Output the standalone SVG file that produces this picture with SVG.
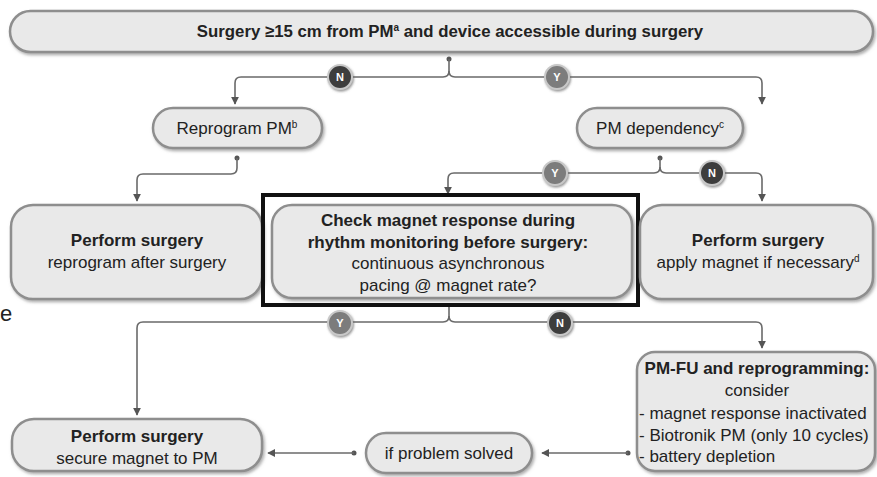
<svg xmlns="http://www.w3.org/2000/svg" width="877" height="477" viewBox="0 0 877 477">
<defs>
<style>
.box{fill:#e9e9e9;stroke:#8e8e8e;stroke-width:2.5;filter:url(#sh)}
.t{font-family:"Liberation Sans",Arial,sans-serif;fill:#222;text-anchor:middle}
.s{text-anchor:start}
.n{font-size:17px}
.bb{font-size:17px;font-weight:bold}
.sup{font-size:10px}
.c{fill:none;stroke:#6a6a6a;stroke-width:1.6}
.dot{fill:#555}
.yn{stroke:#c8c8c8;stroke-width:2;filter:url(#sh2)}
.ynt{font-family:"Liberation Sans",Arial,sans-serif;font-size:11px;font-weight:bold;fill:#fff;text-anchor:middle}
</style>
<filter id="sh" x="-5%" y="-10%" width="112%" height="130%">
<feDropShadow dx="1.5" dy="2" stdDeviation="1.5" flood-color="#777" flood-opacity="0.6"/>
</filter>
<filter id="sh2" x="-30%" y="-30%" width="170%" height="170%">
<feDropShadow dx="1" dy="1.5" stdDeviation="1" flood-color="#666" flood-opacity="0.7"/>
</filter>
<marker id="ah" viewBox="0 0 10 10" refX="9" refY="5" markerWidth="8" markerHeight="8" markerUnits="userSpaceOnUse" orient="auto">
<path d="M0,0 L10,5 L0,10 z" fill="#555"/>
</marker>
</defs>
<rect width="877" height="477" fill="#fff"/>

<g id="connectors">
<circle class="dot" cx="449" cy="59" r="2.5"/>
<path class="c" d="M449,59 V71 Q449,77 443,77 H241 Q235,77 235,83 V104" marker-end="url(#ah)"/>
<path class="c" d="M449,71 Q449,77 455,77 H756 Q762,77 762,83 V104" marker-end="url(#ah)"/>
<circle class="dot" cx="237" cy="158" r="2.5"/>
<path class="c" d="M237,158 V168 Q237,174 231,174 H143 Q137,174 137,180 V201" marker-end="url(#ah)"/>
<circle class="dot" cx="660" cy="158" r="2.5"/>
<path class="c" d="M660,158 V167 Q660,173 654,173 H454 Q448,173 448,179 V194" marker-end="url(#ah)"/>
<path class="c" d="M660,167 Q660,173 666,173 H756 Q762,173 762,179 V201" marker-end="url(#ah)"/>
<path class="c" d="M449,306 V316 Q449,322 443,322 H143 Q137,322 137,328 V415" marker-end="url(#ah)"/>
<path class="c" d="M449,316 Q449,322 455,322 H756 Q762,322 762,328 V348" marker-end="url(#ah)"/>
<circle class="dot" cx="354" cy="453" r="2.5"/>
<path class="c" d="M354,453 H268" marker-end="url(#ah)"/>
<circle class="dot" cx="628" cy="453" r="2.5"/>
<path class="c" d="M628,453 H542" marker-end="url(#ah)"/>
<g id="labels">
<circle class="yn" cx="340" cy="77" r="12" fill="#3e3e3e"/><text class="ynt" x="340" y="81">N</text>
<circle class="yn" cx="557" cy="77" r="12" fill="#7b7b7b"/><text class="ynt" x="557" y="81">Y</text>
<circle class="yn" cx="555" cy="173" r="12" fill="#7b7b7b"/><text class="ynt" x="555" y="177">Y</text>
<circle class="yn" cx="712" cy="173" r="12" fill="#3e3e3e"/><text class="ynt" x="712" y="177">N</text>
<circle class="yn" cx="340" cy="323" r="12" fill="#7b7b7b"/><text class="ynt" x="340" y="327">Y</text>
<circle class="yn" cx="560" cy="323" r="12" fill="#3e3e3e"/><text class="ynt" x="560" y="327">N</text>
</g>
</g>

<g id="top">
<rect class="box" x="10" y="11" width="863" height="41" rx="20.5"/>
<text class="t" x="450" y="37" font-size="16.8" font-weight="bold">Surgery ≥15 cm from PM<tspan class="sup" dy="-6">a</tspan><tspan dy="6"> and device accessible during surgery</tspan></text>
</g>

<g id="reprogram">
<rect class="box" x="153" y="108" width="169" height="40" rx="20"/>
<text class="t n" x="237" y="134">Reprogram PM<tspan class="sup" dy="-6">b</tspan></text>
</g>

<g id="dependency">
<rect class="box" x="577" y="108" width="166" height="40" rx="20"/>
<text class="t n" x="660" y="134">PM dependency<tspan class="sup" dy="-6">c</tspan></text>
</g>

<g id="surgery-left">
<rect class="box" x="11" y="205" width="251" height="94" rx="22"/>
<text class="t bb" x="137" y="246">Perform surgery</text>
<text class="t n" x="137" y="268">reprogram after surgery</text>
</g>

<g id="check">
<rect class="box" x="272" y="205" width="360" height="93" rx="20"/>
<text class="t bb" x="448" y="226">Check magnet response during</text>
<text class="t bb" x="448" y="248">rhythm monitoring before surgery:</text>
<text class="t n" x="448" y="269">continuous asynchronous</text>
<text class="t n" x="448" y="291">pacing @ magnet rate?</text>
<rect x="263" y="195" width="375" height="110" fill="none" stroke="#111" stroke-width="4"/>
</g>

<g id="surgery-right">
<rect class="box" x="640" y="205" width="233" height="94" rx="22"/>
<text class="t bb" x="758" y="246">Perform surgery</text>
<text class="t n" x="758" y="268">apply magnet if necessary<tspan class="sup" dy="-6">d</tspan></text>
</g>

<g id="pmfu">
<rect class="box" x="637" y="352" width="238" height="119" rx="18"/>
<text class="t bb" x="757" y="374">PM-FU and reprogramming:</text>
<text class="t n" x="757" y="396">consider</text>
<text class="t n s" x="639" y="419">- magnet response inactivated</text>
<text class="t n s" x="639" y="441">- Biotronik PM (only 10 cycles)</text>
<text class="t n s" x="639" y="462">- battery depletion</text>
</g>

<g id="solved">
<rect class="box" x="366" y="433" width="166" height="40" rx="20"/>
<text class="t n" x="449" y="459">if problem solved</text>
</g>

<g id="surgery-bottom">
<rect class="box" x="12" y="419" width="250" height="52" rx="22"/>
<text class="t bb" x="137" y="442">Perform surgery</text>
<text class="t n" x="137" y="464">secure magnet to PM</text>
</g>

<text class="t s" x="0" y="321" font-size="22">e</text>
</svg>
